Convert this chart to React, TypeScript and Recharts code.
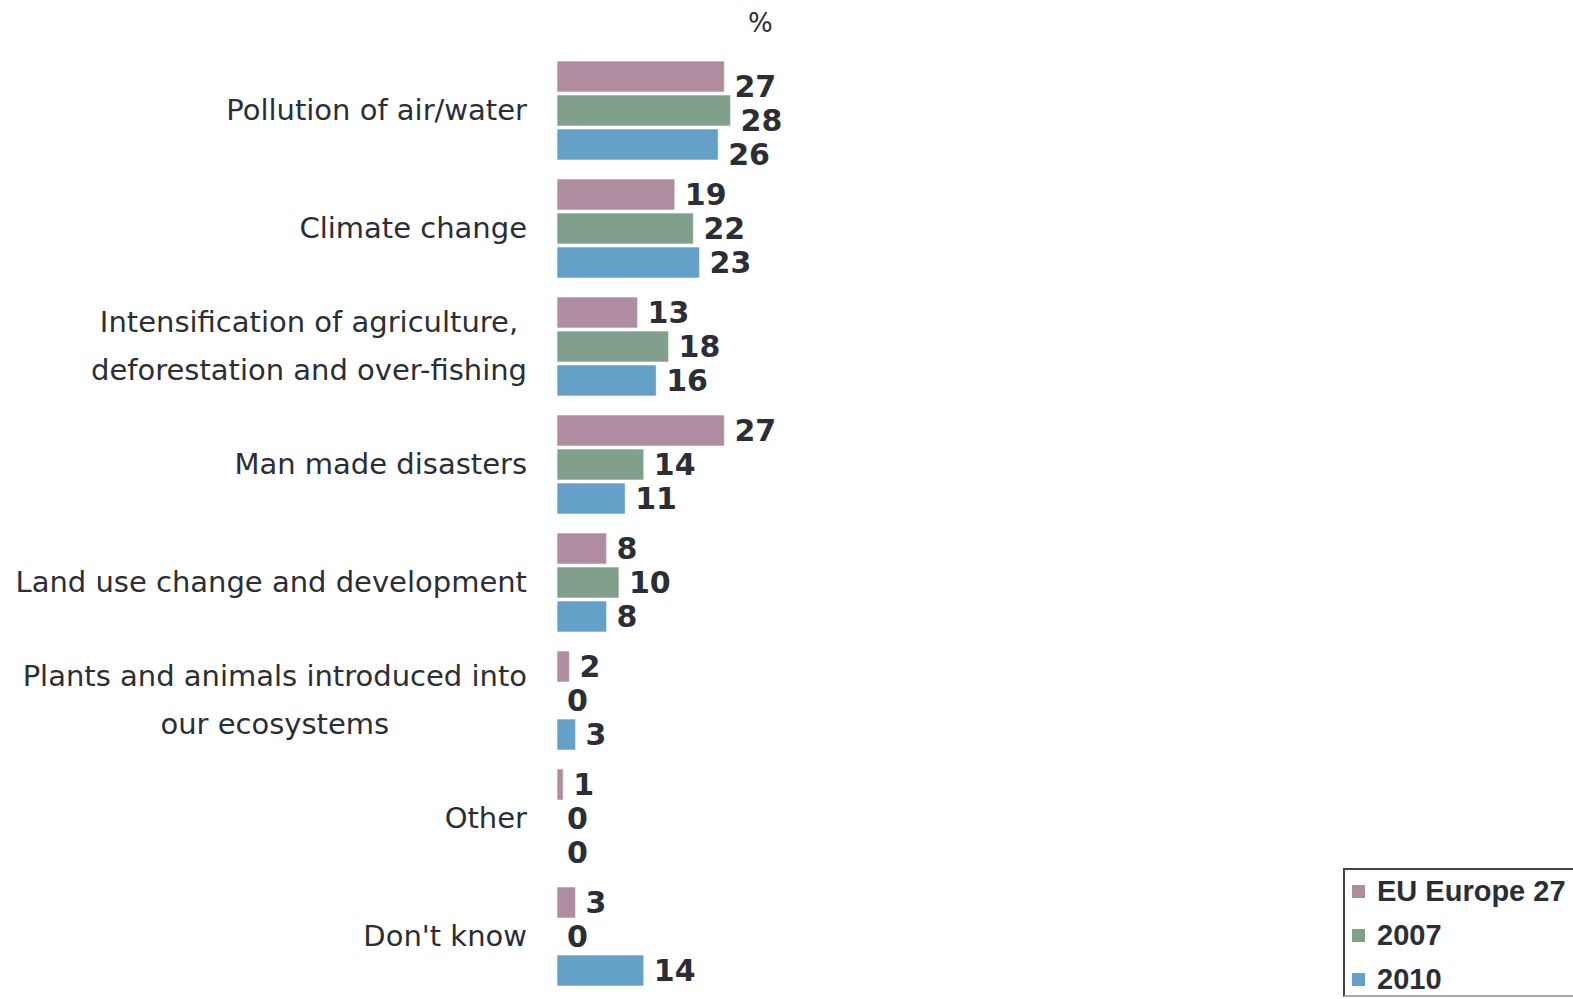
import React from "react";
import { BarChart, Bar, XAxis, YAxis, LabelList } from "recharts";

const categories = [
  "Pollution of air/water",
  "Climate change",
  "Intensification of agriculture,\ndeforestation and over-fishing",
  "Man made disasters",
  "Land use change and development",
  "Plants and animals introduced into\nour ecosystems",
  "Other",
  "Don't know",
];
const euEurope27 = [27, 19, 13, 27, 8, 2, 1, 3];
const y2007 = [28, 22, 18, 14, 10, 0, 0, 0];
const y2010 = [26, 23, 16, 11, 8, 3, 0, 14];
const seriesNames = ["EU Europe 27", "2007", "2010"];
const seriesColors = ["#b08ca0", "#80a08c", "#64a0c8"];
const seriesKeys = ["eu", "y2007", "y2010"];

const data = categories.map((c, i) => ({
  category: c,
  eu: euEurope27[i],
  y2007: y2007[i],
  y2010: y2010[i],
}));

const TEXT = "#2b2e34";
const LABEL_FONT = "DejaVu Sans, sans-serif";
const LABEL_SIZE = 29;

let canvasCtx: CanvasRenderingContext2D | null = null;
function measure(t: string): number {
  if (!canvasCtx) {
    const c = document.createElement("canvas");
    canvasCtx = c.getContext("2d");
  }
  if (!canvasCtx) return t.length * LABEL_SIZE * 0.6;
  canvasCtx.font = `${LABEL_SIZE}px "DejaVu Sans"`;
  return canvasCtx.measureText(t).width;
}

const CategoryTick = (props: any) => {
  const { x, y, payload } = props;
  const lines: string[] = String(payload.value).split("\n");
  if (lines.length === 1) {
    return (
      <text x={x} y={y} textAnchor="end" dominantBaseline="central" fill={TEXT} fontFamily={LABEL_FONT} fontSize={LABEL_SIZE}>
        {lines[0]}
      </text>
    );
  }
  const widths = lines.map(measure);
  const maxW = Math.max(...widths);
  const cx = x - maxW / 2;
  const lh = 48;
  const start = y - ((lines.length - 1) * lh) / 2;
  return (
    <g>
      {lines.map((l, i) => (
        <text key={i} x={cx} y={start + i * lh} textAnchor="middle" dominantBaseline="central" fill={TEXT} fontFamily={LABEL_FONT} fontSize={LABEL_SIZE}>
          {l}
        </text>
      ))}
    </g>
  );
};

const ValueLabel = (props: any) => {
  const { x, y, width, height, value, index } = props;
  const dy = index === 0 ? 10 : 0;
  return (
    <text
      x={x + Math.max(width, 0) + 10}
      y={y + height / 2 + dy}
      dominantBaseline="central"
      fill={TEXT}
      fontFamily={LABEL_FONT}
      fontWeight="bold"
      fontSize={30}
    >
      {value}
    </text>
  );
};

const LegendBox = () => (
  <div
    style={{
      position: "absolute",
      left: 1343,
      top: 868,
      width: 240,
      height: 129,
      border: "2px solid #444",
      borderBottomColor: "#aaa",
      boxSizing: "border-box",
      background: "#fff",
    }}
  >
    {seriesNames.map((n, i) => (
      <div
        key={n}
        style={{
          position: "absolute",
          left: 7,
          top: 21 + i * 44 - 20,
          height: 40,
          display: "flex",
          alignItems: "center",
          whiteSpace: "nowrap",
        }}
      >
        <span style={{ display: "inline-block", width: 13, height: 13, background: seriesColors[i], marginRight: 12 }} />
        <span style={{ fontFamily: "Liberation Sans, Arial, sans-serif", fontWeight: "bold", fontSize: 29, color: TEXT }}>{n}</span>
      </div>
    ))}
  </div>
);

export default function App() {
  return (
    <div style={{ position: "fixed", left: 0, top: 0, width: 1573, height: 999, background: "#fff", overflow: "hidden" }}>
      <div style={{ position: "absolute", left: 748, top: 8, fontFamily: LABEL_FONT, fontSize: 26, color: TEXT }}>%</div>
      <BarChart
        width={1573}
        height={999}
        data={data}
        layout="vertical"
        margin={{ top: 51, right: 396, bottom: 4, left: 0 }}
        barSize={31}
        barGap={3}
      >
        <XAxis type="number" domain={[0, 100]} hide />
        <YAxis
          type="category"
          dataKey="category"
          width={557}
          axisLine={false}
          tickLine={false}
          tickSize={0}
          tickMargin={30}
          tick={<CategoryTick />}
          interval={0}
        />
        {seriesKeys.map((k, i) => (
          <Bar
            key={k}
            dataKey={k}
            name={seriesNames[i]}
            fill={seriesColors[i]}
            stroke="#ffffff"
            strokeOpacity={0.6}
            minPointSize={0.01}
            isAnimationActive={false}
          >
            <LabelList dataKey={k} content={<ValueLabel />} />
          </Bar>
        ))}
      </BarChart>
      <LegendBox />
    </div>
  );
}
